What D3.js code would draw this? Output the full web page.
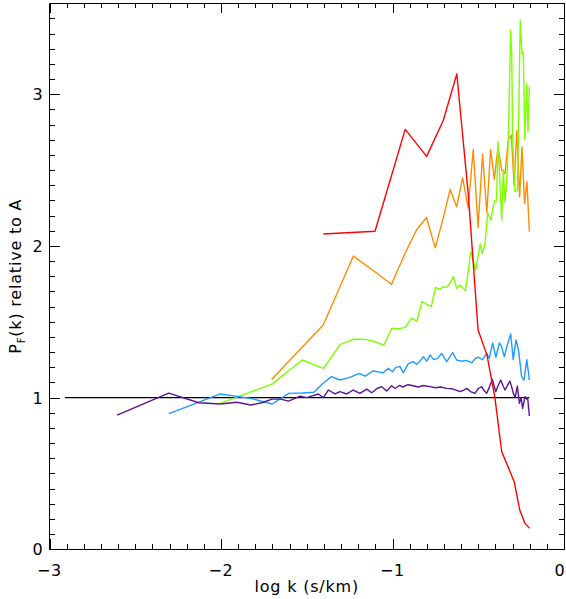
<!DOCTYPE html>
<html>
<head>
<meta charset="utf-8">
<script src="https://cdn.jsdelivr.net/npm/d3@7"></script>
<style>
  html, body { margin: 0; padding: 0; background: #fff; }
  svg { display: block; }
  text { font-family: "DejaVu Sans", sans-serif; fill: #000; letter-spacing: 0.8px; }
</style>
</head>
<body>
<svg id="chart" width="566" height="599"></svg>
<script>
// Flux power ratio P_F(k) relative to model A, one curve per box size.
// Each point is [log10 k (s/km), ratio].

const xDomain = [-3, 0];
const yDomain = [0, 3.6];
const xMajorTicks = [-3, -2, -1, 0];
const yMajorTicks = [0, 1, 2, 3];
const referenceLevel = 1;
const referenceSpan = [-2.91, -0.202];

const seriesPurple = [
  [-2.606, 0.885], [-2.305, 1.03], [-2.129, 0.966], [-2.004, 0.958], [-1.907, 0.969],
  [-1.828, 0.951], [-1.761, 0.966], [-1.703, 0.99], [-1.652, 0.99], [-1.606, 0.977],
  [-1.539, 1.01], [-1.5, 1.0], [-1.433, 1.024], [-1.403, 1.0], [-1.374, 1.05],
  [-1.335, 1.024], [-1.306, 1.039], [-1.267, 1.024], [-1.229, 1.05], [-1.19, 1.028],
  [-1.15, 1.056], [-1.121, 1.032], [-1.09, 1.06], [-1.063, 1.072], [-1.034, 1.043],
  [-1.005, 1.078], [-0.985, 1.06], [-0.96, 1.08], [-0.94, 1.07], [-0.91, 1.085],
  [-0.879, 1.078], [-0.85, 1.07], [-0.82, 1.08], [-0.781, 1.072], [-0.75, 1.065],
  [-0.72, 1.07], [-0.684, 1.061], [-0.65, 1.058], [-0.606, 1.04], [-0.585, 1.05],
  [-0.567, 1.061], [-0.545, 1.04], [-0.519, 1.028], [-0.5, 1.06], [-0.48, 1.072],
  [-0.465, 1.045], [-0.451, 1.028], [-0.435, 1.07], [-0.418, 1.12], [-0.398, 1.039],
  [-0.384, 1.08], [-0.369, 1.116], [-0.356, 1.08], [-0.344, 1.05], [-0.33, 1.08],
  [-0.315, 1.109], [-0.305, 1.07], [-0.296, 1.03], [-0.285, 1.0], [-0.272, 1.076],
  [-0.26, 0.962], [-0.25, 1.0], [-0.241, 0.929], [-0.227, 1.006], [-0.218, 0.99],
  [-0.212, 1.0], [-0.202, 0.879]
];

const seriesBlue = [
  [-2.304, 0.895], [-2.003, 1.024], [-1.827, 0.995], [-1.702, 0.958], [-1.605, 1.028],
  [-1.526, 1.03], [-1.459, 1.035], [-1.40, 1.1], [-1.355, 1.138], [-1.306, 1.116],
  [-1.26, 1.13], [-1.238, 1.138], [-1.195, 1.16], [-1.16, 1.142], [-1.135, 1.16],
  [-1.112, 1.177], [-1.085, 1.17], [-1.054, 1.164], [-1.025, 1.193], [-1.0, 1.17],
  [-0.98, 1.199], [-0.956, 1.204], [-0.937, 1.164], [-0.908, 1.224], [-0.879, 1.237],
  [-0.86, 1.22], [-0.84, 1.24], [-0.82, 1.27], [-0.80, 1.24], [-0.781, 1.281],
  [-0.76, 1.25], [-0.735, 1.26], [-0.713, 1.292], [-0.684, 1.237], [-0.649, 1.296],
  [-0.626, 1.248], [-0.6, 1.24], [-0.571, 1.245], [-0.538, 1.23], [-0.515, 1.26],
  [-0.5, 1.266], [-0.475, 1.25], [-0.451, 1.292], [-0.436, 1.259], [-0.416, 1.36],
  [-0.397, 1.266], [-0.377, 1.36], [-0.365, 1.34], [-0.348, 1.27], [-0.33, 1.35],
  [-0.311, 1.42], [-0.296, 1.25], [-0.28, 1.38], [-0.266, 1.32], [-0.247, 1.138],
  [-0.233, 1.116], [-0.217, 1.25], [-0.202, 1.116]
];

const seriesGreen = [
  [-2.004, 0.962], [-1.703, 1.089], [-1.527, 1.248], [-1.402, 1.193], [-1.305, 1.351],
  [-1.226, 1.386], [-1.159, 1.384], [-1.101, 1.368], [-1.05, 1.345], [-1.004, 1.457],
  [-0.963, 1.454], [-0.925, 1.463], [-0.89, 1.523], [-0.858, 1.505], [-0.828, 1.632],
  [-0.80, 1.615], [-0.774, 1.599], [-0.749, 1.727], [-0.726, 1.714], [-0.704, 1.731],
  [-0.683, 1.727], [-0.663, 1.76], [-0.644, 1.797], [-0.626, 1.72], [-0.608, 1.742],
  [-0.591, 1.725], [-0.575, 1.705], [-0.559, 1.83], [-0.544, 1.962], [-0.529, 1.9],
  [-0.515, 1.837], [-0.501, 1.93], [-0.488, 2.013], [-0.478, 1.95], [-0.462, 2.0],
  [-0.445, 2.215], [-0.438, 2.2], [-0.426, 2.17], [-0.415, 2.25], [-0.404, 2.30],
  [-0.393, 2.30], [-0.385, 2.687], [-0.363, 2.17], [-0.354, 2.50], [-0.344, 2.29],
  [-0.334, 2.42], [-0.325, 2.69], [-0.311, 3.42], [-0.305, 3.265], [-0.299, 2.698],
  [-0.286, 2.357], [-0.271, 2.369], [-0.255, 3.488], [-0.245, 3.265], [-0.237, 3.276],
  [-0.229, 2.698], [-0.217, 3.07], [-0.21, 2.753], [-0.202, 3.05]
];

const seriesOrange = [
  [-1.705, 1.119], [-1.404, 1.479], [-1.228, 1.933], [-1.103, 1.83], [-1.006, 1.747],
  [-0.927, 1.95], [-0.86, 2.105], [-0.802, 2.187], [-0.751, 1.987], [-0.705, 2.18],
  [-0.664, 2.372], [-0.626, 2.258], [-0.591, 2.45], [-0.559, 2.25], [-0.529, 2.636],
  [-0.501, 2.12], [-0.475, 2.604], [-0.45, 2.22], [-0.428, 2.636], [-0.406, 2.44],
  [-0.385, 2.651], [-0.363, 2.5], [-0.344, 2.478], [-0.325, 2.698], [-0.307, 2.73],
  [-0.291, 2.4], [-0.275, 2.763], [-0.259, 2.323], [-0.245, 2.653], [-0.23, 2.279],
  [-0.216, 2.423], [-0.202, 2.094]
];

const seriesRed = [
  [-1.403, 2.079], [-1.102, 2.097], [-0.926, 2.768], [-0.801, 2.59], [-0.704, 2.827],
  [-0.625, 3.133], [-0.558, 2.34], [-0.501, 1.446], [-0.449, 1.28], [-0.403, 1.0],
  [-0.363, 0.643], [-0.325, 0.54], [-0.29, 0.444], [-0.258, 0.259], [-0.228, 0.171],
  [-0.2, 0.138]
];

const seriesColors = {
  purple: "#5a1496",
  blue: "#1e9bff",
  green: "#7fff00",
  orange: "#ff8c00",
  red: "#ff0000"
};

const plot = { left: 49.5, right: 564, top: 3.2, bottom: 549.3 };
const width = 566;

const svg = d3.select("#chart");
const x = d3.scaleLinear().domain(xDomain).range([plot.left, plot.right]);
const y = d3.scaleLinear().domain(yDomain).range([plot.bottom, plot.top]);

const line = d3.line().x(d => x(d[0])).y(d => y(d[1]));

// Curves: drawn in this order so the red one sits on top
const drawOrder = [
  ["orange", seriesOrange],
  ["green", seriesGreen],
  ["blue", seriesBlue],
  ["purple", seriesPurple],
  ["red", seriesRed]
];

// Reference level P = 1
svg.append("line")
  .attr("x1", x(referenceSpan[0])).attr("x2", x(referenceSpan[1]))
  .attr("y1", y(referenceLevel)).attr("y2", y(referenceLevel))
  .attr("stroke", "#000").attr("stroke-width", 1.4);

const curves = svg.append("g").attr("fill", "none").attr("stroke-width", 1.4)
  .attr("stroke-linejoin", "round");

drawOrder.forEach(([name, data]) => {
  curves.append("path").datum(data)
    .attr("stroke", seriesColors[name])
    .attr("d", line);
});

// Frame with inward ticks on all four sides
const frame = svg.append("g").attr("stroke", "#000").attr("stroke-width", 1)
  .attr("shape-rendering", "crispEdges");

frame.append("rect")
  .attr("x", plot.left).attr("y", plot.top)
  .attr("width", plot.right - plot.left).attr("height", plot.bottom - plot.top)
  .attr("fill", "none");

const majorLen = 10, minorLen = 5;
const xMinor = d3.range(-30, 1).map(i => i / 10);
const yMinor = d3.range(0, 37).map(i => i / 10);
const isMajor = (v, list) => list.some(t => Math.abs(t - v) < 1e-6);

xMinor.forEach(v => {
  const len = isMajor(v, xMajorTicks) ? majorLen : minorLen;
  const px = Math.round(x(v)) + 0.5;
  frame.append("line").attr("x1", px).attr("x2", px)
    .attr("y1", plot.bottom).attr("y2", plot.bottom - len);
  frame.append("line").attr("x1", px).attr("x2", px)
    .attr("y1", plot.top).attr("y2", plot.top + len);
});

yMinor.forEach(v => {
  const len = isMajor(v, yMajorTicks) ? majorLen : minorLen;
  const py = Math.round(y(v)) + 0.5;
  frame.append("line").attr("y1", py).attr("y2", py)
    .attr("x1", plot.left).attr("x2", plot.left + len);
  frame.append("line").attr("y1", py).attr("y2", py)
    .attr("x1", plot.right).attr("x2", plot.right - len);
});

// Tick labels (the last x label is kept inside the page edge)
const fmt = v => (v < 0 ? "\u2212" + Math.abs(v) : String(v));

svg.append("g").selectAll("text").data(xMajorTicks).join("text")
  .attr("x", d => Math.min(x(d), width - 6))
  .attr("y", 576)
  .attr("text-anchor", "middle")
  .attr("font-size", 16)
  .text(fmt);

svg.append("g").selectAll("text").data(yMajorTicks).join("text")
  .attr("x", plot.left - 6).attr("y", d => y(d) + 6)
  .attr("text-anchor", "end")
  .attr("font-size", 16)
  .text(fmt);

// Axis titles
svg.append("text")
  .attr("x", (plot.left + plot.right) / 2).attr("y", 592)
  .attr("text-anchor", "middle")
  .attr("font-size", 16)
  .text("log k (s/km)");

const yTitle = svg.append("text")
  .attr("transform", `translate(21,${(plot.top + plot.bottom) / 2}) rotate(-90)`)
  .attr("text-anchor", "middle")
  .attr("font-size", 16);
yTitle.append("tspan").text("P");
yTitle.append("tspan").attr("font-size", 10).attr("dy", 4).text("F");
yTitle.append("tspan").attr("dy", -4).text("(k) relative to A");
</script>
</body>
</html>
